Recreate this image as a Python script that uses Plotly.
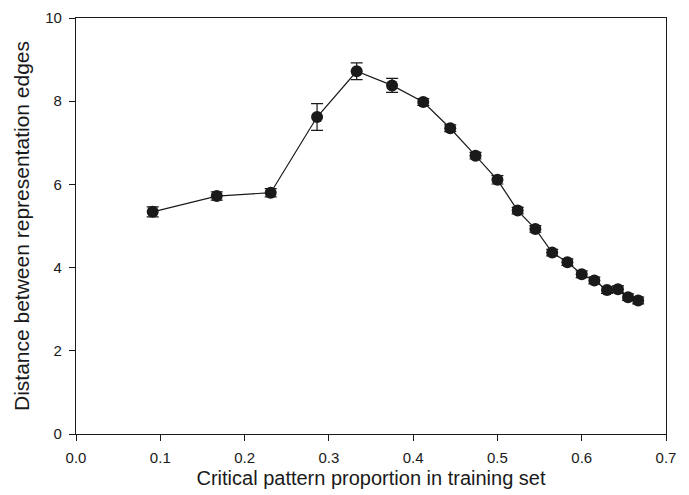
import plotly.graph_objects as go

proportion = [0.091, 0.167, 0.231, 0.286, 0.333, 0.375, 0.412, 0.444, 0.474, 0.500,
              0.524, 0.545, 0.565, 0.583, 0.600, 0.615, 0.630, 0.643, 0.655, 0.667]
distance = [5.34, 5.72, 5.80, 7.62, 8.72, 8.38, 7.98, 7.35, 6.69, 6.11,
            5.37, 4.93, 4.36, 4.13, 3.84, 3.69, 3.46, 3.48, 3.29, 3.21]
error = [0.12, 0.10, 0.10, 0.32, 0.20, 0.17, 0.08, 0.08, 0.08, 0.10,
         0.08, 0.08, 0.08, 0.08, 0.08, 0.08, 0.08, 0.08, 0.08, 0.08]
xticks = [0.0, 0.1, 0.2, 0.3, 0.4, 0.5, 0.6, 0.7]
xticklabels = ["0.0", "0.1", "0.2", "0.3", "0.4", "0.5", "0.6", "0.7"]
yticks = [0, 2, 4, 6, 8, 10]

fig = go.Figure()
fig.add_trace(go.Scatter(
    x=proportion, y=distance, mode="lines+markers",
    line=dict(color="#1a1a1a", width=1.2),
    marker=dict(color="#1a1a1a", size=12, line=dict(width=0)),
    error_y=dict(type="data", array=error, visible=True, color="#1a1a1a",
                 thickness=1.2, width=6),
    showlegend=False,
))

axis_font = dict(family="Liberation Sans, Arial, sans-serif", size=15, color="#1a1a1a")
fig.update_layout(
    width=689, height=495,
    margin=dict(l=76, r=23, t=9, b=61),
    paper_bgcolor="white", plot_bgcolor="white",
    font=dict(family="Liberation Sans, Arial, sans-serif", color="#1a1a1a"),
    xaxis=dict(range=[0, 0.7], tickvals=xticks, ticktext=xticklabels,
               ticks="outside", ticklen=6, tickwidth=1, tickcolor="#1a1a1a",
               showline=True, linecolor="#1a1a1a", linewidth=1.2, mirror=True,
               showgrid=False, zeroline=False, tickfont=axis_font,
               ticklabelstandoff=4,
               title=dict(text="Critical pattern proportion in training set",
                          font=dict(size=20, color="#1a1a1a"), standoff=5)),
    yaxis=dict(range=[0, 10], tickvals=yticks,
               ticks="outside", ticklen=6, tickwidth=1, tickcolor="#1a1a1a",
               showline=True, linecolor="#1a1a1a", linewidth=1.2, mirror=True,
               showgrid=False, zeroline=False, tickfont=axis_font,
               ticklabelstandoff=4,
               title=dict(text="Distance between representation edges",
                          font=dict(size=21, color="#1a1a1a"), standoff=9)),
)

fig.write_html("out.html")
